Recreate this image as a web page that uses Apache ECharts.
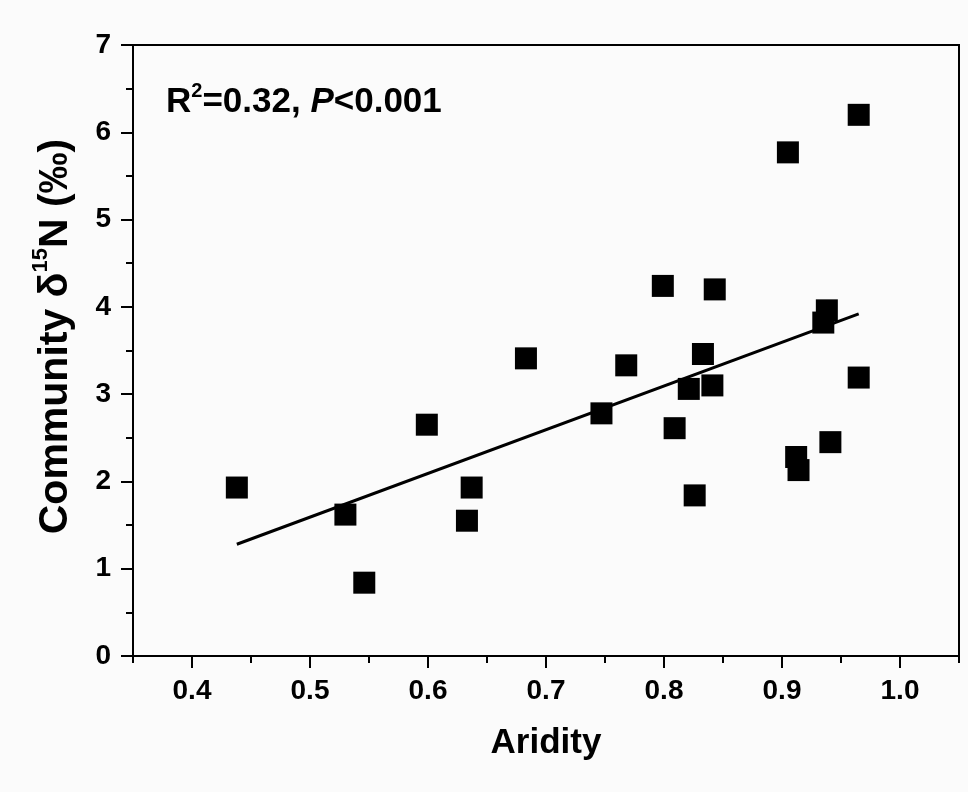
<!DOCTYPE html>
<html>
<head>
<meta charset="utf-8">
<script src="https://cdn.jsdelivr.net/npm/echarts@6/dist/echarts.min.js"></script>
<style>
html,body{margin:0;padding:0;background:#fbfbfb;}
#chart{width:968px;height:792px;}
</style>
</head>
<body>
<div id="chart"></div>
<script>
// Data
const aridity = [0.438, 0.530, 0.546, 0.599, 0.633, 0.637, 0.683, 0.747, 0.768, 0.799, 0.809, 0.821, 0.826, 0.833, 0.841, 0.843, 0.905, 0.912, 0.914, 0.935, 0.938, 0.941, 0.965, 0.965];
const d15N    = [1.93, 1.62, 0.84, 2.65, 1.55, 1.93, 3.41, 2.78, 3.33, 4.24, 2.61, 3.06, 1.84, 3.46, 3.10, 4.20, 5.77, 2.28, 2.13, 3.82, 3.96, 2.45, 3.19, 6.20];
const fitX = [0.438, 0.965];
const fitY = [1.28, 3.92];
const xMajorTicks = [0.4, 0.5, 0.6, 0.7, 0.8, 0.9, 1.0];
const yTicks = [0, 1, 2, 3, 4, 5, 6, 7];

const FONT = 'Liberation Sans, Arial, sans-serif';
const chart = echarts.init(document.getElementById('chart'));
const points = aridity.map((x, i) => [x, d15N[i]]);
const fitLine = fitX.map((x, i) => [x, fitY[i]]);

chart.setOption({
  backgroundColor: '#fbfbfb',
  animation: false,
  title: {
    left: 161, top: 76,
    text: '{b|R}{sup|2}{b|=0.32, }{i|P}{b|<0.001}',
    textStyle: {
      rich: {
        b: {fontFamily: FONT, fontWeight: 'bold', fontSize: 35, color: '#000', verticalAlign: 'bottom'},
        i: {fontFamily: FONT, fontWeight: 'bold', fontStyle: 'italic', fontSize: 35, color: '#000', verticalAlign: 'bottom'},
        sup: {fontFamily: FONT, fontWeight: 'bold', fontSize: 20, color: '#000', verticalAlign: 'bottom', padding: [0, 0, 19, 0]}
      }
    }
  },
  grid: {left: 133, right: 9, top: 45, bottom: 136, show: true, borderColor: '#000', borderWidth: 2, backgroundColor: 'transparent'},
  xAxis: [
    {
      type: 'value', position: 'bottom', min: 0.35, max: 1.05, interval: 0.05,
      axisLine: {show: true, lineStyle: {color: '#000', width: 2}},
      axisTick: {show: true, length: 7, lineStyle: {color: '#000', width: 2}},
      axisLabel: {show: false},
      splitLine: {show: false}
    },
    {
      type: 'value', position: 'bottom', min: 0.35, max: 1.05,
      axisLine: {show: true, lineStyle: {color: '#000', width: 2}},
      axisTick: {show: true, length: 12, customValues: xMajorTicks, lineStyle: {color: '#000', width: 2}},
      axisLabel: {show: true, customValues: xMajorTicks, margin: 21, color: '#000', fontFamily: FONT, fontWeight: 'bold', fontSize: 28,
        formatter: v => v.toFixed(1)},
      splitLine: {show: false},
      name: 'Aridity', nameLocation: 'middle', nameGap: 70,
      nameTextStyle: {color: '#000', fontFamily: FONT, fontWeight: 'bold', fontSize: 35}
    }
  ],
  yAxis: {
    type: 'value', min: yTicks[0], max: yTicks[yTicks.length - 1], interval: 1,
    axisLine: {show: true, lineStyle: {color: '#000', width: 2}},
    axisTick: {show: true, length: 12, lineStyle: {color: '#000', width: 2}},
    minorTick: {show: true, splitNumber: 2, length: 7, lineStyle: {color: '#000', width: 2}},
    axisLabel: {margin: 22, color: '#000', fontFamily: FONT, fontWeight: 'bold', fontSize: 28},
    splitLine: {show: false},
    name: '{a|Community δ}{s|15}{a|N (‰)}', nameLocation: 'middle', nameGap: 57, nameRotate: 90,
    nameTextStyle: {
      padding: [0, 0, 0, 28],
      rich: {
        a: {color: '#000', fontFamily: FONT, fontWeight: 'bold', fontSize: 41, verticalAlign: 'bottom'},
        s: {color: '#000', fontFamily: FONT, fontWeight: 'bold', fontSize: 22, verticalAlign: 'bottom', padding: [0, 0, 24, 0]}
      }
    }
  },
  series: [
    {
      type: 'line', data: fitLine, xAxisIndex: 0, showSymbol: false, symbol: 'none',
      lineStyle: {color: '#000', width: 3}, silent: true, z: 2
    },
    {
      type: 'scatter', data: points, xAxisIndex: 0, symbol: 'rect', symbolSize: 22,
      itemStyle: {color: '#000', opacity: 1}, z: 3
    }
  ]
});
</script>
</body>
</html>
